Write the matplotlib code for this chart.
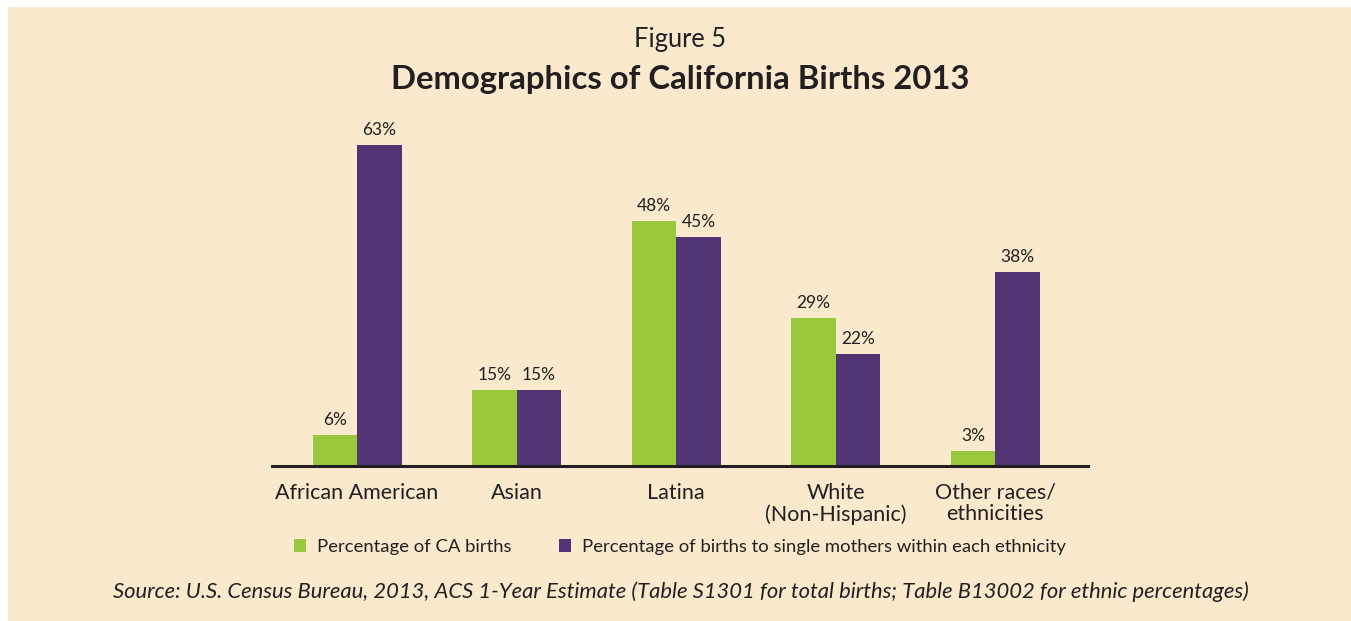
import matplotlib
matplotlib.use('Agg')
import matplotlib.pyplot as plt
import numpy as np
from matplotlib.patches import Rectangle

categories = ['African American', 'Asian', 'Latina', 'White\n(Non-Hispanic)', 'Other races/\nethnicities']
ca_births = [6, 15, 48, 29, 3]
single_mothers = [63, 15, 45, 22, 38]
series_labels = ['Percentage of CA births',
                 'Percentage of births to single mothers within each ethnicity']

GREEN = '#9AC83C'
PURPLE = '#523473'
BG = '#FAE9CD'
TEXT = '#231F20'

plt.rcParams['font.family'] = ['Lato', 'DejaVu Sans']

W, H = 1351, 621
fig = plt.figure(figsize=(W / 100, H / 100), dpi=100)
fig.patch.set_facecolor('white')
# beige panel (small white margin top/left)
fig.patches.append(Rectangle((8 / W, -0.01), 1.02 - 8 / W, 1.01 - 7 / H, transform=fig.transFigure,
                             facecolor=BG, edgecolor='none', zorder=-10))

# axes in pixel coordinates
left, right, bottom, top = 272, 1088, 466, 109.3
ax = fig.add_axes([left / W, 1 - bottom / H, (right - left) / W, (bottom - top) / H])
ax.set_facecolor('none')

x = np.arange(len(categories))
width = 0.279
b1 = ax.bar(x - width / 2, ca_births, width, color=GREEN, label=series_labels[0], zorder=2)
b2 = ax.bar(x + width / 2, single_mothers, width, color=PURPLE, label=series_labels[1], zorder=2)

for rects, vals in ((b1, ca_births), (b2, single_mothers)):
  for r, v in zip(rects, vals):
    ax.annotate(f'{v}%', (r.get_x() + r.get_width() / 2, v), xytext=(0, 5),
                textcoords='offset points', ha='center', va='bottom',
                fontsize=12.5, color=TEXT)

ax.set_xlim(-0.533, 4.58)
ax.set_ylim(0, 70)
ax.set_yticks([])
for s in ['top', 'right', 'left']:
  ax.spines[s].set_visible(False)
ax.spines['bottom'].set_linewidth(2.2)
ax.spines['bottom'].set_color(TEXT)
ax.spines['bottom'].set_zorder(3)
ax.set_xticks(x, categories)
ax.tick_params(axis='x', length=0, pad=12, labelsize=15.5, labelcolor=TEXT)
for lbl in ax.get_xticklabels():
  lbl.set_linespacing(1.1)

fig.text(680 / W, 1 - 40 / H, 'Figure 5', ha='center', va='center', fontsize=18.4, color=TEXT)
fig.text(680 / W, 1 - 80 / H, 'Demographics of California Births 2013', ha='center',
         va='center', fontsize=23.7, fontweight='bold', color=TEXT)

fig.legend(handles=[b1, b2], labels=series_labels, loc='center', ncols=2,
           bbox_to_anchor=(680 / W, 1 - 547 / H), frameon=False, fontsize=13.3,
           handlelength=0.65, handleheight=0.65, handletextpad=0.6, columnspacing=2.6,
           labelcolor=TEXT)

fig.text(681 / W, 1 - 592 / H,
         'Source: U.S. Census Bureau, 2013, ACS 1-Year Estimate (Table S1301 for total births; '
         'Table B13002 for ethnic percentages)',
         ha='center', va='center', fontsize=15.8, style='italic', color=TEXT)

plt.savefig('out.png', dpi=100, facecolor=fig.get_facecolor())
